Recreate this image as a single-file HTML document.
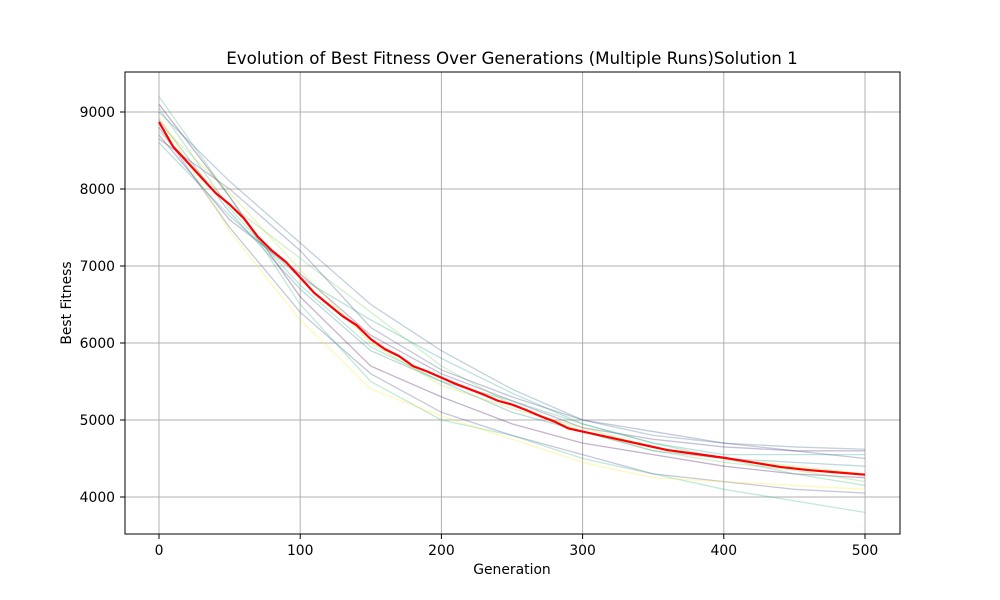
<!DOCTYPE html>
<html><head><meta charset="utf-8">
<style>
body{margin:0;background:#fff;}
svg{display:block;font-family:"DejaVu Sans","Liberation Sans",sans-serif;}
</style></head>
<body>
<svg id="chart" width="1000" height="600" viewBox="0 0 1000 600">
<rect width="1000" height="600" fill="#fff"/>
<g id="grid"></g>
<g id="runs"></g>
<g id="meanline"></g>
<rect x="125" y="72" width="775" height="462" fill="none" stroke="#000" stroke-width="1"/>
<g id="ticks"></g>
<text x="512" y="64" text-anchor="middle" font-size="16.7">Evolution of Best Fitness Over Generations (Multiple Runs)Solution 1</text>
<text x="512" y="574" text-anchor="middle" font-size="13.9">Generation</text>
<text x="71" y="303" text-anchor="middle" font-size="13.9" transform="rotate(-90 71 303)">Best Fitness</text>
</svg>
<script>
const xTicks=[0,100,200,300,400,500];
const yTicks=[4000,5000,6000,7000,8000,9000];
const runGens=[0,50,100,150,200,250,300,350,400,450,500];
const run1=[9100,7900,6600,5700,5300,4950,4700,4550,4400,4300,4250];
const run2=[8700,7600,6900,6100,5600,5250,4900,4750,4650,4600,4600];
const run3=[8800,7500,6400,5600,5100,4800,4550,4300,4200,4100,4050];
const run4=[9000,8100,7300,6500,5900,5400,5000,4800,4700,4650,4620];
const run5=[8900,7700,6700,5900,5500,5100,4850,4600,4500,4450,4400];
const run6=[8600,7650,6850,6300,5800,5350,4950,4700,4550,4550,4550];
const run7=[9200,7900,6500,5500,5000,4800,4500,4300,4100,3950,3800];
const run8=[8750,7800,7100,6400,5700,5200,4850,4600,4450,4350,4200];
const run9=[8850,7950,6950,6000,5450,5150,4900,4650,4500,4400,4300];
const run10=[8950,7450,6300,5400,5050,4750,4450,4250,4200,4150,4100];
const run11=[8650,8000,7200,6200,5650,5300,5000,4850,4700,4600,4500];
const run12=[9050,7750,6750,5950,5500,5250,4950,4700,4500,4300,4150];
const runs=[run1,run2,run3,run4,run5,run6,run7,run8,run9,run10,run11,run12];
const meanGens=[0,10,20,30,40,50,60,70,80,90,100,110,120,130,140,150,160,170,180,190,200,210,220,230,240,250,260,270,280,290,300,320,340,360,380,400,420,440,460,480,500];
const meanVals=[8870,8550,8350,8150,7950,7800,7620,7380,7200,7050,6850,6650,6500,6350,6230,6050,5920,5830,5700,5630,5550,5470,5400,5330,5250,5200,5130,5050,4980,4890,4850,4770,4690,4610,4560,4510,4450,4390,4350,4320,4290];
const colors=['#440154','#482878','#3e4989','#31688e','#26828e','#1f9e89','#35b779','#6ece58','#b5de2b','#fde725','#3e4989','#35b779'];
const NS='http://www.w3.org/2000/svg';
function sx(g){return 159+g*(865-159)/500;}
function sy(v){return 497-(v-4000)*(497-112)/5000;}
function mk(tag,attrs,parent){const e=document.createElementNS(NS,tag);for(const k in attrs)e.setAttribute(k,attrs[k]);parent.appendChild(e);return e;}
const grid=document.getElementById('grid'),ticks=document.getElementById('ticks');
xTicks.forEach(t=>{
  const l=mk('line',{x1:sx(t),x2:sx(t),y1:72,y2:534,stroke:'#b0b0b0','stroke-width':1},grid);
  
  
  mk('line',{x1:sx(t),x2:sx(t),y1:534,y2:539,stroke:'#000'},ticks);
  const tx=mk('text',{x:sx(t),y:555,'text-anchor':'middle','font-size':13.9},ticks);
  tx.textContent=t;
  
  
});
yTicks.forEach(t=>{
  const l=mk('line',{x1:125,x2:900,y1:sy(t),y2:sy(t),stroke:'#b0b0b0','stroke-width':1},grid);
  
  
  mk('line',{x1:120,x2:125,y1:sy(t),y2:sy(t),stroke:'#000'},ticks);
  const tx=mk('text',{x:115,y:sy(t)+5,'text-anchor':'end','font-size':13.9},ticks);
  tx.textContent=t;
  
  
});
const rg=document.getElementById('runs');
runs.forEach((r,i)=>{
  const pts=r.map((v,j)=>sx(runGens[j])+','+sy(v)).join(' ');
  const p=mk('polyline',{points:pts,fill:'none',stroke:colors[i%colors.length],'stroke-opacity':0.3,'stroke-width':1.3},rg);
  
  
});
const mg=document.getElementById('meanline');
const mp=mk('polyline',{points:meanVals.map((v,j)=>sx(meanGens[j])+','+sy(v)).join(' '),fill:'none',stroke:'#ff0000','stroke-width':2.2},mg);


</script>
</body></html>
